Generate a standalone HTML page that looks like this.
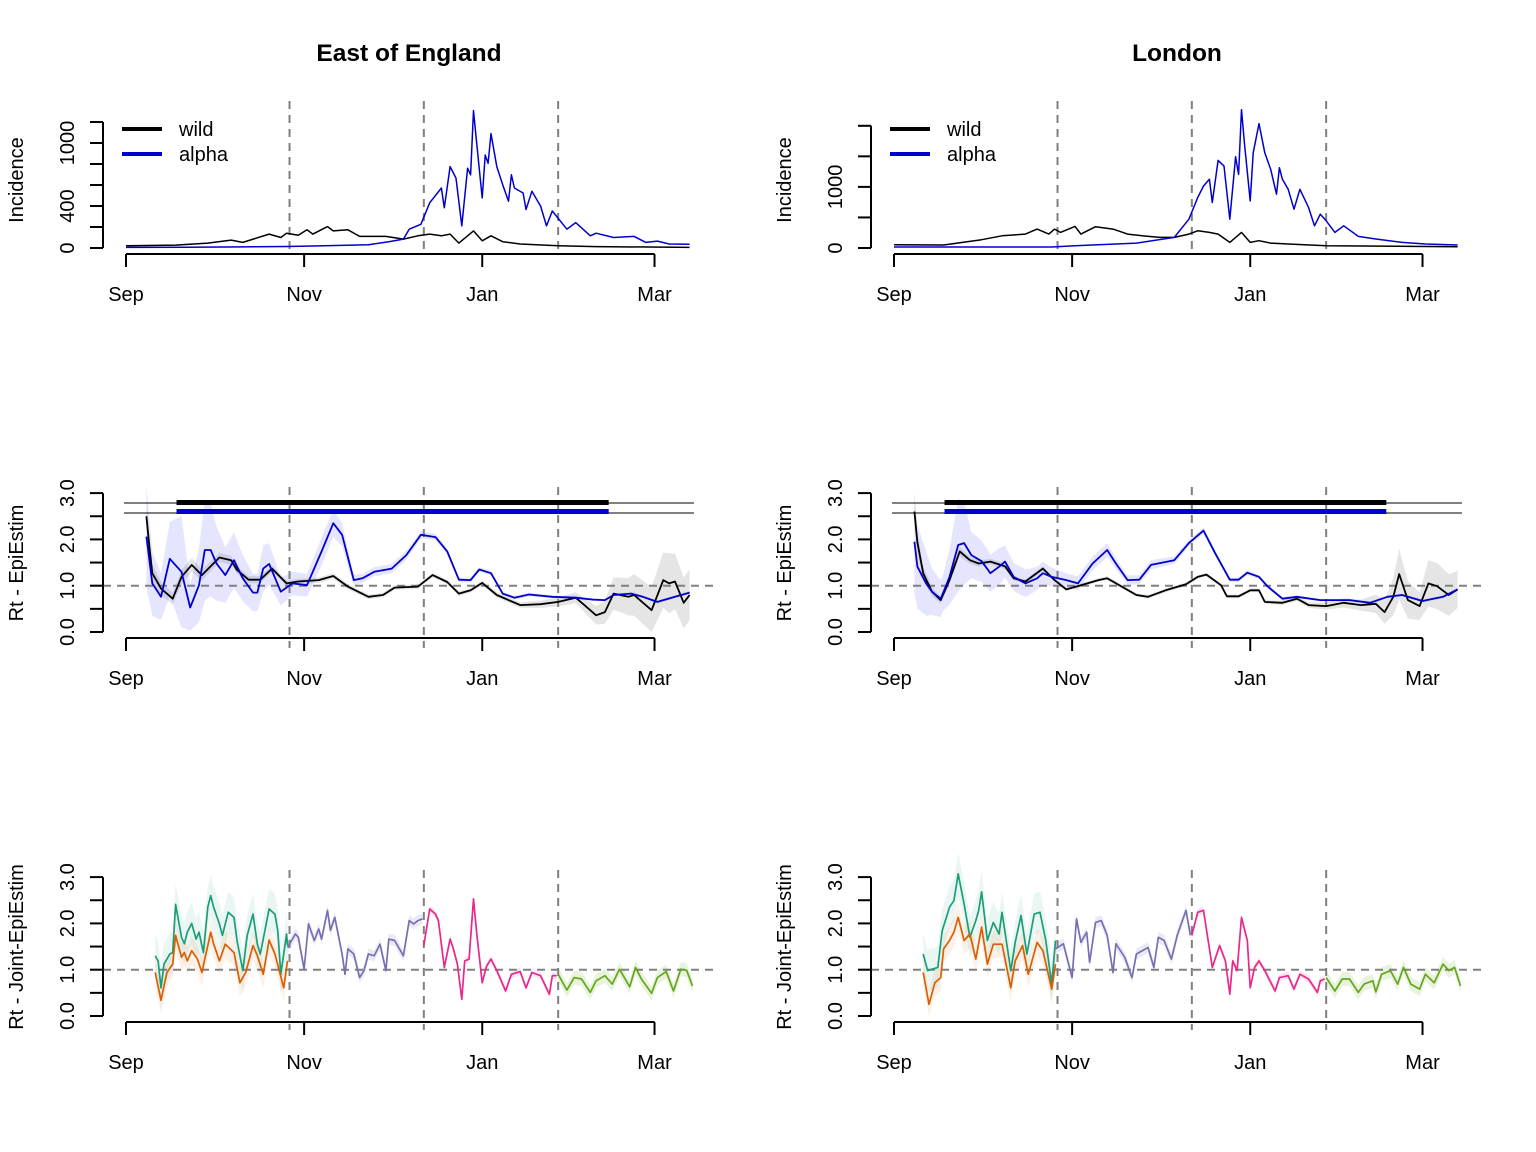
<!DOCTYPE html>
<html><head><meta charset="utf-8">
<style>
html,body{margin:0;padding:0;background:#fff;}
svg{display:block;font-family:"Liberation Sans",Arial,sans-serif;}
</style></head>
<body>
<svg id="chart" width="1536" height="1152" viewBox="0 0 1536 1152" xmlns="http://www.w3.org/2000/svg">
<rect x="0" y="0" width="1536" height="1152" fill="#fff"/>
<text x="409" y="61" font-size="24.5" font-weight="bold" text-anchor="middle">East of England</text>
<text x="1177" y="61" font-size="24.5" font-weight="bold" text-anchor="middle">London</text>
</svg>
<script>
// ---- axis categories ----
const monthLabels = ["Sep","Nov","Jan","Mar"];
const monthDays = [0,61,122,181];
const variantBoundaries = [56,102,148];
const incTicksE = [0,200,400,600,800,1000,1200];
const incLabelsE = ["0","","400","","","1000",""];
const incTicksL = [0,500,1000,1500,2000];
const incLabelsL = ["0","","1000","",""];
const rtTicks = [0,0.5,1,1.5,2,2.5,3];
const rtLabels = ["0.0","","1.0","","2.0","","3.0"];
const legendLabels = ["wild","alpha"];

// ---- East of England incidence ----
const eAlphaDays = [0,20,40,55,68,83,90,95,97,101,104,108,109,111,113,115,117,118,119,120,122,123,124,125,127,129,131,132,133,136,137,139,142,144,146,151,154,159,161,167,174,178,182,186,193];
const eAlphaInc = [6,8,10,14,22,31,60,85,179,226,430,571,383,775,666,210,760,697,1309,1027,477,885,807,1090,775,603,446,697,571,524,367,540,399,210,352,179,242,116,141,100,110,53,66,38,35];
const eWildDays = [0,17,28,36,40,49,53,55,59,62,64,69,71,76,80,85,89,95,100,104,108,111,114,119,122,125,129,135,148,161,193];
const eWildInc = [22,28,47,75,53,132,100,141,122,173,132,204,163,173,110,110,110,85,116,132,116,132,47,163,69,116,60,38,22,13,6];

// ---- London incidence ----
const lAlphaDays = [0,54,62,83,96,101,104,106,108,109,111,113,115,117,118,119,120,122,123,125,127,129,131,132,133,135,137,139,142,144,146,148,151,154,159,165,174,182,193];
const lAlphaInc = [16,16,38,81,174,472,825,1015,1124,744,1434,1341,472,1493,1205,2264,1721,771,1558,2036,1558,1287,880,1314,1124,961,635,961,662,364,554,445,255,364,190,147,92,65,49];
const lWildDays = [0,17,30,37,45,49,53,55,57,62,64,69,75,80,85,91,96,101,104,108,111,115,119,122,125,129,135,148,193];
const lWildInc = [54,49,136,200,228,310,228,310,255,353,228,348,310,228,200,174,174,228,282,255,228,92,255,92,119,81,65,38,22];

// ---- East Rt (EpiEstim) ----
const eRtWildDays = [7,8,9,12,16,19,22.5,26,32,36,38,42,46,50,55,59,66,71,76,83,88,92,100,105,110,114,118,122,127,135,142,148,154,157,161,164,167,172,174,180,184,186,188,191,193];
const eRtWild = [2.5,1.84,1.27,0.94,0.72,1.19,1.45,1.23,1.61,1.55,1.34,1.13,1.13,1.37,1.05,1.09,1.12,1.21,0.98,0.76,0.8,0.96,0.98,1.23,1.08,0.83,0.9,1.06,0.8,0.58,0.6,0.65,0.74,0.58,0.36,0.43,0.83,0.76,0.8,0.47,1.12,1.05,1.09,0.63,0.8];
const eRtWildCI = [0.3,0.25,0.2,0.15,0.12,0.15,0.15,0.12,0.1,0.1,0.08,0.08,0.08,0.07,0.06,0.06,0.06,0.06,0.06,0.05,0.05,0.05,0.05,0.05,0.05,0.05,0.05,0.05,0.06,0.06,0.08,0.1,0.12,0.15,0.2,0.25,0.35,0.4,0.45,0.5,0.6,0.65,0.6,0.55,0.55];
const eRtAlphaDays = [7,9,12,15,19,22,25,27,29,31,34,37,40,43.5,45,47,49,53,57,62,67,71,74,78,81,85,91,96,101,106,110,114,118,121,125,129,133,138,146,154,160,164,167,173,177,182,188,193];
const eRtAlpha = [2.06,1.05,0.76,1.58,1.3,0.53,1.01,1.77,1.77,1.48,1.23,1.55,1.16,0.85,0.85,1.37,1.47,0.87,1.05,1.01,1.74,2.35,2.1,1.12,1.16,1.3,1.37,1.66,2.1,2.05,1.74,1.13,1.12,1.35,1.27,0.83,0.74,0.81,0.76,0.74,0.7,0.69,0.8,0.83,0.76,0.65,0.76,0.85];
const eRtAlphaCI = [1.1,0.7,0.5,0.8,1.2,0.5,0.8,1.1,1.0,0.8,0.6,0.6,0.5,0.4,0.4,0.5,0.45,0.3,0.25,0.25,0.3,0.3,0.25,0.12,0.1,0.1,0.1,0.1,0.08,0.07,0.06,0.05,0.05,0.05,0.05,0.04,0.04,0.04,0.03,0.03,0.03,0.03,0.03,0.03,0.03,0.03,0.03,0.03];
const eBarStart = 17.3, eBarEnd = 165.3;

// ---- London Rt (EpiEstim) ----
const lRtWildDays = [7,8,10,13,16,19,22.5,26,29,33,38,41,45,51,55,59,64,70,73,78,83,87,93,100,104,107,112,114,118,122,125,127,133,138,142,148,154,160,165,168,171,173,176,180,183,186,190,193];
const lRtWild = [2.6,1.93,1.27,0.87,0.69,1.12,1.74,1.55,1.48,1.52,1.42,1.16,1.09,1.37,1.12,0.92,1.01,1.12,1.16,0.98,0.8,0.76,0.9,1.03,1.19,1.24,1.01,0.77,0.77,0.9,0.9,0.65,0.63,0.72,0.58,0.56,0.63,0.58,0.61,0.43,0.76,1.25,0.69,0.56,1.05,0.99,0.8,0.92];
const lRtWildCI = [0.3,0.25,0.15,0.1,0.08,0.08,0.1,0.08,0.07,0.06,0.06,0.05,0.05,0.05,0.04,0.04,0.04,0.04,0.04,0.04,0.04,0.04,0.04,0.04,0.04,0.04,0.04,0.04,0.04,0.04,0.04,0.04,0.05,0.05,0.06,0.08,0.1,0.12,0.2,0.25,0.4,0.55,0.4,0.3,0.5,0.5,0.45,0.4];
const lRtAlphaDays = [7,8,11,13,16,17,19,22,24,26.5,30,33,36,38,41,45,49,51,54,59,63,68,73,76,80,84,88,96,101,106,110,115,118,121,125,128,133,138,146,156,163,169,174,181,188,193];
const lRtAlpha = [1.95,1.41,1.05,0.87,0.72,0.87,1.19,1.88,1.92,1.66,1.53,1.27,1.41,1.52,1.19,1.05,1.16,1.27,1.19,1.12,1.05,1.48,1.77,1.48,1.12,1.13,1.45,1.55,1.92,2.19,1.7,1.13,1.13,1.28,1.19,0.98,0.72,0.76,0.69,0.69,0.63,0.76,0.8,0.67,0.76,0.92];
const lRtAlphaCI = [1.1,0.9,0.7,0.5,0.4,0.4,0.6,1.0,0.9,0.5,0.45,0.4,0.4,0.35,0.3,0.3,0.25,0.25,0.2,0.15,0.15,0.15,0.15,0.12,0.1,0.1,0.1,0.08,0.07,0.07,0.06,0.05,0.05,0.05,0.04,0.04,0.04,0.03,0.03,0.03,0.03,0.03,0.03,0.03,0.03,0.03];
const lBarStart = 17.3, lBarEnd = 168.6;

// ---- East joint Rt ----
const eJWildDays = [10,11,12,13,15,16,17,19,20,21,22.5,24,25,26.5,28,29,30,32,33,35,37,38,40,41.5,43.5,45,46,49,51,52,53,55,55.3];
const eJWild = [1.3,1.19,0.61,1.12,1.34,1.37,2.41,1.7,1.56,1.81,2.0,1.66,1.81,1.37,2.35,2.6,2.35,1.99,1.74,2.24,2.13,1.63,0.98,1.74,2.2,1.55,1.34,2.31,2.2,1.84,0.9,1.77,1.52];
const eJAlphaDays = [10,12,14,16,17,19,20,21,22.5,24.5,26,28,29,30,32,34,37,39,41,43.5,45,47,49,51,54,55.3];
const eJAlpha = [0.94,0.34,0.94,1.12,1.74,1.27,1.37,1.19,1.41,1.23,0.94,1.52,1.81,1.56,1.19,1.55,1.37,0.72,0.94,1.52,1.3,0.9,1.64,1.34,0.61,1.19];
const eJP3Days = [55.3,58,59,61,62.5,64.5,66,67,69,70,71.5,74,75,76,78,80,81.5,83,85,87,89,90,92,95,97,98.5,100,101.5];
const eJP3 = [1.48,1.77,1.7,1.01,1.99,1.63,1.88,1.66,2.28,1.85,2.13,1.34,0.9,1.45,1.34,0.83,0.98,1.34,1.3,1.55,0.98,1.66,1.63,1.3,2.06,1.99,2.06,2.1];
const eJP4Days = [102,104,106,107,109,111,112,113.5,115,116,117.5,119,120,122,123.5,125,127,130,132,135,137,139,142,145,146,147.5];
const eJP4 = [1.52,2.31,2.2,2.06,1.05,1.66,1.48,1.12,0.36,1.19,1.23,2.53,1.85,0.72,1.08,1.23,0.98,0.54,0.9,0.96,0.61,0.94,0.87,0.47,0.87,0.87];
const eJP5Days = [148,151,153.5,156,159,161,164,166.5,169,172.5,174.5,176.5,180,182,185,187.5,190,192,194];
const eJP5 = [0.9,0.56,0.83,0.8,0.51,0.76,0.87,0.69,1.01,0.63,1.05,0.8,0.49,0.83,0.96,0.54,1.01,0.99,0.65];

// ---- London joint Rt ----
const lJWildDays = [10,11.5,13,15,16.5,19,20.5,22,24,26,28,29,30,32,34,36,37,40,41.5,43.5,45.5,48,50,52,54,55.3];
const lJWild = [1.34,0.98,1.01,1.05,1.84,2.35,2.49,3.07,2.42,1.7,2.06,2.28,2.68,1.63,2.02,1.77,2.24,0.98,1.59,2.17,1.34,2.2,2.24,1.63,0.69,1.63];
const lJAlphaDays = [10,12,14,16,17,19,20.5,22,24,26,28,30,32,34,37,40,41.5,44,46,49,51,54,55.3];
const lJAlpha = [0.94,0.25,0.72,0.83,1.45,1.63,1.81,2.13,1.63,1.77,1.23,1.92,1.12,1.55,1.55,0.61,1.19,1.52,0.9,1.59,1.41,0.58,1.12];
const lJP3Days = [55.3,58,61,62.5,64,66,67,69,71,73,75,76,79,81.5,83,87,89,90.5,92.5,95,97,100,101.5];
const lJP3 = [1.45,1.56,0.83,2.1,1.59,1.81,1.16,2.02,2.06,1.74,0.94,1.56,1.27,0.83,1.34,1.48,1.05,1.7,1.63,1.23,1.74,2.28,1.74];
const lJP4Days = [102,104,106,109,111.5,113.5,115,116,117.5,119,121,122,123.5,125,127,130.5,132,135,137,139,142,145,146,147.5];
const lJP4 = [1.74,2.24,2.28,1.05,1.52,1.19,0.47,1.19,0.98,2.13,1.63,0.61,1.05,1.19,0.98,0.54,0.83,0.87,0.58,0.9,0.8,0.51,0.76,0.8];
const lJP5Days = [148,151,153.5,156,159,161,164,165,167,170,172.5,174.5,177,180,182,185,188,190,192,194];
const lJP5 = [0.83,0.54,0.8,0.8,0.51,0.69,0.76,0.52,0.9,0.98,0.69,1.05,0.69,0.58,0.9,0.72,1.12,0.98,1.05,0.65];

// ---- band half-widths per joint series ----
const jointCI = [0.45,0.3,0.12,0.08,0.15];

const NS = "http://www.w3.org/2000/svg";
const svg = document.getElementById("chart");
function mk(tag, attrs, parent){
  const e = document.createElementNS(NS, tag);
  for (const k in attrs) e.setAttribute(k, attrs[k]);
  (parent||svg).appendChild(e);
  return e;
}
const XPX = 2.92;
function xs(ox, d){ return ox + 126 + d*XPX; }
function lineD(ox, days, vals, ys){
  return days.map((d,i)=>(i?"L":"M")+xs(ox,d).toFixed(1)+","+ys(vals[i]).toFixed(1)).join(" ");
}
function bandD(ox, days, vals, ci, ys){
  const ciAt = i => Array.isArray(ci) ? ci[i] : ci;
  let up = days.map((d,i)=>(i?"L":"M")+xs(ox,d).toFixed(1)+","+ys(vals[i]+ciAt(i)).toFixed(1)).join(" ");
  let lo = days.map((d,i)=>[d,i]).reverse().map(([d,i])=>"L"+xs(ox,d).toFixed(1)+","+ys(Math.max(0,vals[i]-ciAt(i))).toFixed(1)).join(" ");
  return up+" "+lo+" Z";
}
function xAxis(g, ox, yAxis, labY){
  const ax = mk("line",{x1:xs(ox,monthDays[0]),x2:xs(ox,monthDays[monthDays.length-1]),y1:yAxis,y2:yAxis,stroke:"#000","stroke-width":2},g);
  
  
  monthDays.forEach((d,i)=>{
    const t = mk("line",{x1:xs(ox,d),x2:xs(ox,d),y1:yAxis,y2:yAxis+13,stroke:"#000","stroke-width":2},g);
    
    
    const l = mk("text",{x:xs(ox,d),y:labY,"font-size":20,"text-anchor":"middle"},g);
    l.textContent = monthLabels[i];
    
    
  });
}
function yAxis(g, ox, ticks, labels, ys, title, titleY){
  const x0 = ox+103;
  const ax = mk("line",{x1:x0,x2:x0,y1:ys(ticks[0]),y2:ys(ticks[ticks.length-1]),stroke:"#000","stroke-width":2},g);
  
  
  ticks.forEach((v,i)=>{
    const y = ys(v);
    const t = mk("line",{x1:x0-13,x2:x0,y1:y,y2:y,stroke:"#000","stroke-width":2},g);
    
    
    if (labels[i]) {
      const l = mk("text",{x:0,y:0,"font-size":20,"text-anchor":"middle",transform:`translate(${ox+74},${y}) rotate(-90)`},g);
      l.textContent = labels[i];
      
      
    }
  });
  const tt = mk("text",{x:0,y:0,"font-size":20,"text-anchor":"middle",transform:`translate(${ox+23},${titleY}) rotate(-90)`},g);
  tt.textContent = title;
  
  
}
function vDashes(g, ox, y1, y2){
  variantBoundaries.forEach(d=>{
    const l = mk("line",{x1:xs(ox,d),x2:xs(ox,d),y1:y1,y2:y2,stroke:"#808080","stroke-width":2,"stroke-dasharray":"8,6"},g);
    
    
  });
}
function hDash(g, ox, y){
  const l = mk("line",{x1:ox+103,x2:ox+714,y1:y,y2:y,stroke:"#808080","stroke-width":2,"stroke-dasharray":"8,6"},g);
  
  
}
function series(g, ox, days, vals, ys, color, name, w){
  const p = mk("path",{d:lineD(ox,days,vals,ys),fill:"none",stroke:color,"stroke-width":w||1.6,"stroke-linejoin":"round"},g);
  
  
}
function band(g, ox, days, vals, ci, ys, color, name){
  const p = mk("path",{d:bandD(ox,days,vals,ci,ys),fill:color,stroke:"none"},g);
  
  
}

const BLUE = "#0000CD";
const panels = [
  {ox:0, key:"east", incK:0.105, incTicks:incTicksE, incLabels:incLabelsE,
   aD:eAlphaDays, aV:eAlphaInc, wD:eWildDays, wV:eWildInc,
   rwD:eRtWildDays, rw:eRtWild, rwCI:eRtWildCI, raD:eRtAlphaDays, ra:eRtAlpha, raCI:eRtAlphaCI, b0:eBarStart, b1:eBarEnd,
   j:[[eJWildDays,eJWild],[eJAlphaDays,eJAlpha],[eJP3Days,eJP3],[eJP4Days,eJP4],[eJP5Days,eJP5]]},
  {ox:768, key:"london", incK:0.0611, incTicks:incTicksL, incLabels:incLabelsL,
   aD:lAlphaDays, aV:lAlphaInc, wD:lWildDays, wV:lWildInc,
   rwD:lRtWildDays, rw:lRtWild, rwCI:lRtWildCI, raD:lRtAlphaDays, ra:lRtAlpha, raCI:lRtAlphaCI, b0:lBarStart, b1:lBarEnd,
   j:[[lJWildDays,lJWild],[lJAlphaDays,lJAlpha],[lJP3Days,lJP3],[lJP4Days,lJP4],[lJP5Days,lJP5]]}
];
const jointColors = ["#1B9E77","#D95F02","#7570B3","#E7298A","#66A61E"];
const jointBands = ["rgba(27,158,119,0.09)","rgba(217,95,2,0.09)","rgba(117,112,179,0.15)","rgba(231,41,138,0.12)","rgba(102,166,30,0.15)"];
const jointNames = ["wild","alpha","period-3","period-4","period-5"];

panels.forEach(P=>{
  const ox = P.ox;
  // ---------- Row 1: incidence ----------
  const g1 = mk("g",{});
  
  
  const ysI = v => 248 - v*P.incK;
  vDashes(g1, ox, 101, 255);
  series(g1, ox, P.wD, P.wV, ysI, "#000", "wild-incidence-line", 1.5);
  series(g1, ox, P.aD, P.aV, ysI, BLUE, "alpha-incidence-line", 1.5);
  xAxis(g1, ox, 254, 301);
  yAxis(g1, ox, P.incTicks, P.incLabels, ysI, "Incidence", 180);
  const leg = mk("g",{},g1);
  
  
  [["#000",129],[BLUE,154]].forEach((c,i)=>{
    const e = mk("g",{},leg);
    
    
    mk("line",{x1:ox+122,x2:ox+162,y1:c[1],y2:c[1],stroke:c[0],"stroke-width":4},e);
    const t = mk("text",{x:ox+179,y:c[1]+7,"font-size":20},e);
    t.textContent = legendLabels[i];
  });

  // ---------- Row 2: Rt EpiEstim ----------
  const g2 = mk("g",{});
  
  
  const ysR = v => 632 - v*46.3;
  band(g2, ox, P.raD, P.ra, P.raCI, ysR, "rgba(0,0,255,0.1)", "alpha-rt-ci-band");
  band(g2, ox, P.rwD, P.rw, P.rwCI, ysR, "rgba(0,0,0,0.1)", "wild-rt-ci-band");
  vDashes(g2, ox, 487, 648);
  hDash(g2, ox, ysR(1));
  [503,513].forEach(y=>{
    const l = mk("line",{x1:xs(ox,-0.7),x2:xs(ox,194.5),y1:y,y2:y,stroke:"#000","stroke-width":1},g2);
    
    
  });
  const bk = mk("line",{x1:xs(ox,P.b0),x2:xs(ox,P.b1),y1:502.5,y2:502.5,stroke:"#000","stroke-width":5},g2);
  
  
  const bb = mk("line",{x1:xs(ox,P.b0),x2:xs(ox,P.b1),y1:511.5,y2:511.5,stroke:BLUE,"stroke-width":5},g2);
  
  
  series(g2, ox, P.rwD, P.rw, ysR, "#000", "wild-rt-line", 1.8);
  series(g2, ox, P.raD, P.ra, ysR, BLUE, "alpha-rt-line", 1.8);
  xAxis(g2, ox, 638, 685);
  yAxis(g2, ox, rtTicks, rtLabels, ysR, "Rt - EpiEstim", 563);

  // ---------- Row 3: joint Rt ----------
  const g3 = mk("g",{});
  
  
  const ysJ = v => 1016 - v*46.3;
  P.j.forEach((s,i)=> band(g3, ox, s[0], s[1], jointCI[i], ysJ, jointBands[i], jointNames[i]+"-joint-ci-band"));
  vDashes(g3, ox, 870, 1030);
  hDash(g3, ox, ysJ(1));
  P.j.forEach((s,i)=> series(g3, ox, s[0], s[1], ysJ, jointColors[i], jointNames[i]+"-joint-rt-line", 1.7));
  xAxis(g3, ox, 1022, 1069);
  yAxis(g3, ox, rtTicks, rtLabels, ysJ, "Rt - Joint-EpiEstim", 947);
});
</script>
</body></html>
